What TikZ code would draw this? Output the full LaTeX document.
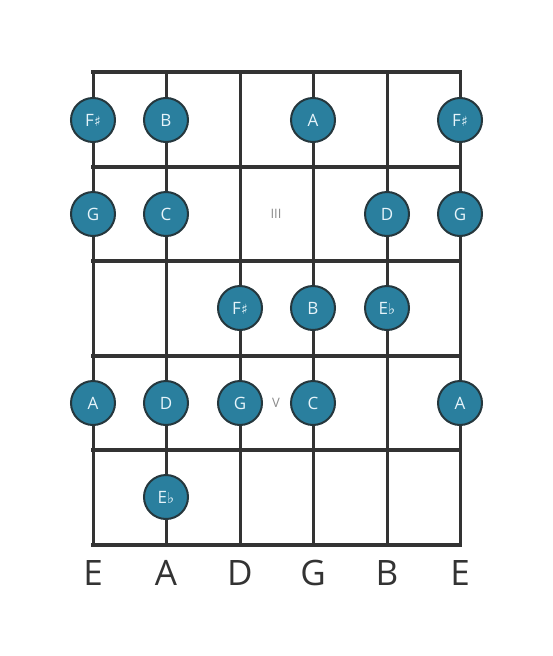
\documentclass[tikz,border=0pt]{standalone}
\usepackage{fontspec}
\setmainfont{Open Sans}
\newfontfamily\symfont{DejaVu Sans}
\definecolor{linec}{HTML}{333333}
\definecolor{notefill}{HTML}{2A7F9E}
\definecolor{noteedge}{HTML}{25373D}
\definecolor{notetext}{HTML}{E6F4FA}
\definecolor{markc}{HTML}{8A8A8A}
\newcommand{\shp}{{\symfont\fontsize{14}{14}\selectfont ♯}}
\newcommand{\flt}{{\symfont\fontsize{15}{15}\selectfont ♭}}
\begin{document}
\begin{tikzpicture}[x=1pt,y=-1pt,
  fret/.style={draw=linec,line width=4.5pt},
  strg/.style={draw=linec,line width=3pt},
  note/.style={circle,fill=notefill,draw=noteedge,line width=2pt,minimum size=44pt,inner sep=0pt,text=notetext,font=\fontsize{17}{17}\selectfont},
  fmark/.style={text=markc,font=\fontsize{13}{13}\selectfont},
  sname/.style={text=linec,font=\fontsize{35}{35}\selectfont}]
\useasboundingbox (0,0) rectangle (553,656);
% strings
\foreach \x/\n in {93/s1,166/s2,240/s3,313/s4,387/s5,460/s6}{
  \coordinate (\n t) at (\x,72);
  \coordinate (\n b) at (\x,545);
  \draw[strg] (\n t) -- (\n b);
}
% frets
\foreach \y/\n in {72/f0,167/f1,261/f2,356/f3,450/f4,545/f5}{
  \coordinate (\n l) at (91,\y);
  \coordinate (\n r) at (462,\y);
  \draw[fret] (\n l) -- (\n r);
}
% notes
\node[note] (n1a) at (93,120) {F\shp};
\node[note] (n1b) at (166,120) {B};
\node[note] (n1c) at (313,120) {A};
\node[note] (n1d) at (460,120) {F\shp};
\node[note] (n2a) at (93,214) {G};
\node[note] (n2b) at (166,214) {C};
\node[note] (n2c) at (387,214) {D};
\node[note] (n2d) at (460,214) {G};
\node[note] (n3a) at (240,308) {F\shp};
\node[note] (n3b) at (313,308) {B};
\node[note] (n3c) at (387,308) {E\flt};
\node[note] (n4a) at (93,403) {A};
\node[note] (n4b) at (166,403) {D};
\node[note] (n4c) at (240,403) {G};
\node[note] (n4d) at (313,403) {C};
\node[note] (n4e) at (460,403) {A};
\node[note] (n5a) at (166,497) {E\flt};
% fret markers
\node[fmark] (m3) at (276,214) {III};
\node[fmark] (m5) at (276,403) {V};
% string names
\foreach \x/\l/\n in {93/E/l1,166/A/l2,240/D/l3,313/G/l4,387/B/l5,460/E/l6}{
  \node[sname] (\n) at (\x,573) {\l};
}
\end{tikzpicture}
\end{document}
